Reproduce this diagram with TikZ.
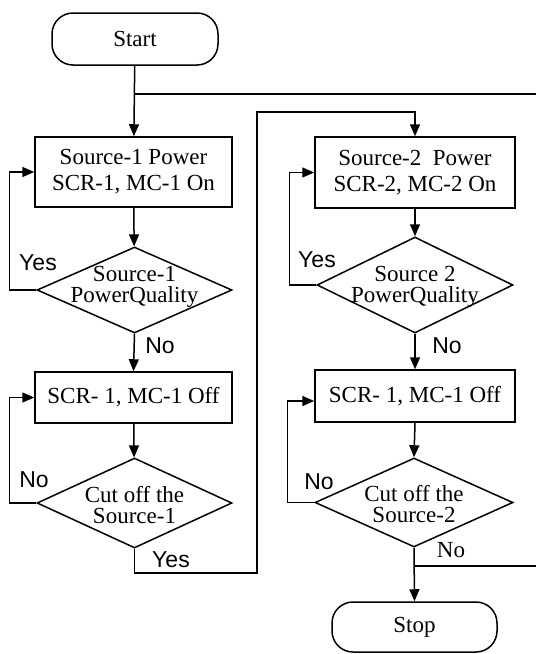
\documentclass[tikz,border=0pt]{standalone}
\usepackage{fontspec}
\setmainfont{Liberation Serif}
\newfontfamily\labfont{Liberation Sans}
\usetikzlibrary{shapes.geometric,arrows.meta}
\begin{document}
\begin{tikzpicture}[x=1pt,y=-1pt,
  line width=1.5pt,
  txt/.style={font=\fontsize{23}{26}\selectfont, align=center},
  term/.style={draw, rounded corners=21pt, minimum width=166pt, minimum height=52pt, inner sep=0pt, txt},
  procbox/.style={draw, minimum width=197pt, inner sep=0pt, txt},
  decision/.style={draw, diamond, inner sep=0pt},
  dtext/.style={font=\fontsize{23}{21}\selectfont, align=center},
  lab/.style={font=\labfont\fontsize{23}{25}\selectfont, inner sep=0pt},
  labserif/.style={font=\fontsize{23}{25}\selectfont, inner sep=0pt},
  arr/.style={-{Triangle[length=12pt,width=10pt]}}
]
\useasboundingbox (0,0) rectangle (536,654);
% left column
\node[term] (start) at (135,39) {Start};
\node[procbox, minimum height=70pt] (b1) at (133.5,172) {Source-1 Power\\SCR-1, MC-1 On};
\node[decision, minimum width=195pt, minimum height=86pt] (d1) at (134.5,290) {};
\node[dtext] (d1t) at (134.5,287) {Source-1\\PowerQuality};
\node[procbox, minimum height=51pt] (b3) at (133.5,397.5) {SCR- 1, MC-1 Off};
\node[decision, minimum width=195pt, minimum height=90pt] (d2) at (134.5,503) {};
\node[dtext] (d2t) at (134.5,505) {Cut off the\\Source-1};
% right column
\node[procbox, minimum width=200pt, minimum height=71pt] (b2) at (415,172.5) {Source-2\ \ Power\\SCR-2, MC-2 On};
\node[decision, minimum width=196pt, minimum height=96pt] (d3) at (415,285) {};
\node[dtext] (d3t) at (415,287) {Source 2\\PowerQuality};
\node[procbox, minimum width=200pt, minimum height=52pt] (b4) at (415,396) {SCR- 1, MC-1 Off};
\node[decision, minimum width=198pt, minimum height=89pt] (d4) at (414,502.5) {};
\node[dtext] (d4t) at (414,504) {Cut off the\\Source-2};
\node[term, minimum width=165pt, minimum height=50pt] (stop) at (414.5,627) {Stop};
% coordinates
\coordinate (j1) at (135,94);
\coordinate (e1) at (536,94);
\coordinate (c1) at (257,573);
\coordinate (c2) at (257,112);
\coordinate (j2) at (414,566);
\coordinate (e2) at (536,566);
% connectors left
\draw[arr] (start) -- (b1);
\draw (j1) -- (e1);
\draw[arr] (b1) -- (d1);
\draw[arr] (d1.west) -- ++(-27,0) |- (b1.west);
\draw[arr] (d1.south) -- (b3.north);
\draw[arr] (b3) -- (d2);
\draw[arr] (d2.west) -- ++(-27,0) |- (b3.west);
\draw[arr] (d2.south) |- (c1) -- (c2) -| (b2.north);
% connectors right
\draw[arr] (b2.south) -- (d3.north);
\draw[arr] (d3.west) -- ++(-27,0) |- (b2.west);
\draw[arr] (d3.south) -- (b4.north);
\draw[arr] (b4.south) -- (d4.north);
\draw[arr] (d4.west) -- ++(-27,0) |- ([yshift=-5pt]b4.west);
\draw[arr] (d4.south) -- (stop.north);
\draw (j2) -- (e2);
% labels
\node[lab] (l1) at (38,263) {Yes};
\node[lab] (l2) at (160,346) {No};
\node[lab] (l3) at (34,480) {No};
\node[lab] (l4) at (171,560) {Yes};
\node[lab] (l5) at (317,260) {Yes};
\node[lab] (l6) at (447,346) {No};
\node[lab] (l7) at (319,482) {No};
\node[labserif] (l8) at (451,550) {No};
\end{tikzpicture}
\end{document}
